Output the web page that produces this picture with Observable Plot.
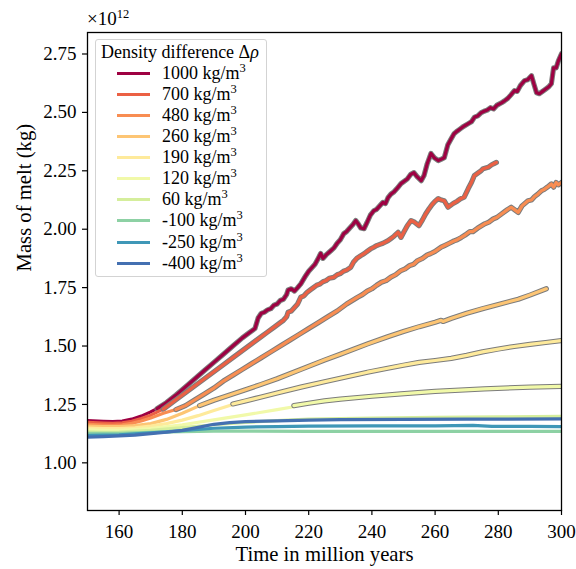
<!DOCTYPE html>
<html>
<head>
<meta charset="utf-8">
<script src="https://cdn.jsdelivr.net/npm/d3@7"></script>
<script src="https://cdn.jsdelivr.net/npm/@observablehq/plot@0.6"></script>
<style>
  body { margin: 0; background: #fff; }
  #wrap { position: relative; width: 576px; height: 569px; font-family: 'Liberation Serif'; color: #000; }
  .sup { font-size: 12.5px; line-height: 0; position: relative; top: -7px; }
  #legend { position: absolute; left: 95px; top: 39px; width: 172px; height: 238px; border: 1px solid #d3d3d3; border-radius: 3px; background: rgba(255,255,255,0.85); box-sizing: border-box; }
  #legend .title { position: absolute; left: 5px; top: 3px; font-size: 18px; line-height: 18px; white-space: nowrap; }
  #legend .row { position: absolute; left: 0; height: 18px; width: 170px; }
  #legend .sw { position: absolute; left: 21px; top: 8px; width: 33px; height: 3px; }
  #legend .lab { position: absolute; left: 66px; top: 0; font-size: 18px; line-height: 18px; white-space: nowrap; }
  #mult { position: absolute; left: 87px; top: 9px; font-size: 19px; line-height: 19px; }
</style>
</head>
<body>
<div id="wrap"></div>
<script>
const seriesNames = ["1000", "700", "480", "260", "190", "120", "60", "-100", "-250", "-400"];
const seriesColors = ["#9e0142", "#eb6044", "#f88d52", "#fdc574", "#feea9b", "#f1f9a9", "#d5ee9c", "#8dd1a4", "#3f97b7", "#4470b1"];
const xTicks = [160, 180, 200, 220, 240, 260, 280, 300];
const yTicks = [1.00, 1.25, 1.50, 1.75, 2.00, 2.25, 2.50, 2.75];

// Mass of melt (units of 1e12 kg) vs time (Myr); early = plain, late = outlined segment
const early_1000 = [[150,1.181],[155,1.178],[158,1.177],[161,1.179],[164,1.187],[167,1.200],[170,1.218],[172,1.232]];
const late_1000 = [[172,1.232],[175,1.258],[178,1.290],[181,1.325],[184,1.360],[187,1.395],[190,1.430],[193,1.465],[196,1.500],[199,1.535],[201,1.555],[203,1.575],[204,1.620],[205,1.640],[206,1.645],[207,1.655],[208,1.660],[209,1.675],[210,1.680],[211,1.695],[212,1.700],[213,1.720],[213.5,1.740],[214.5,1.745],[215.5,1.735],[216.5,1.750],[217.5,1.766],[219,1.800],[220,1.820],[221,1.835],[222,1.850],[223,1.875],[223.8,1.896],[224.5,1.875],[225.5,1.890],[227,1.908],[228,1.920],[229,1.940],[230,1.955],[231.1,1.981],[232,1.990],[233,2.005],[234,2.020],[234.9,2.037],[235.8,2.020],[236.5,2.005],[237.5,2.002],[238.5,2.030],[239.5,2.060],[240.6,2.079],[241.5,2.085],[242.5,2.100],[243.5,2.115],[244.3,2.110],[245.1,2.135],[246,2.150],[247,2.160],[248,2.175],[249.2,2.195],[250.2,2.205],[251.2,2.215],[252.3,2.235],[253.3,2.242],[254.3,2.225],[255.6,2.208],[256.5,2.230],[257.5,2.280],[258.7,2.324],[259.8,2.305],[261,2.294],[262,2.300],[262.9,2.306],[264,2.360],[265,2.385],[266,2.409],[267,2.420],[268,2.430],[269,2.440],[270.5,2.452],[271.5,2.460],[272.5,2.480],[273.5,2.485],[274.6,2.499],[275.5,2.505],[276.5,2.510],[277.5,2.520],[278.5,2.515],[279.5,2.530],[281,2.541],[282,2.550],[283,2.560],[284,2.575],[285.1,2.593],[286,2.590],[287,2.615],[288.3,2.636],[289.3,2.640],[290.5,2.657],[291.3,2.620],[292.1,2.584],[293,2.580],[294,2.590],[295,2.600],[296,2.610],[296.8,2.623],[297.5,2.691],[298.3,2.690],[299,2.720],[300,2.751]];

const early_700 = [[150,1.173],[155,1.170],[158,1.169],[161,1.171],[164,1.178],[167,1.190],[170,1.204],[174,1.230]];
const late_700 = [[174,1.230],[176,1.250],[178,1.270],[181,1.300],[184,1.330],[187,1.360],[190,1.390],[193,1.420],[196,1.450],[199,1.480],[202,1.510],[205,1.540],[207,1.560],[209,1.580],[211,1.600],[212,1.610],[213,1.625],[213.5,1.645],[214.5,1.650],[215.5,1.665],[216.5,1.680],[217.5,1.709],[218.5,1.715],[219.5,1.730],[220.5,1.740],[221.6,1.751],[222.5,1.760],[223.5,1.765],[224.5,1.775],[225.5,1.780],[226.5,1.790],[227.9,1.794],[229,1.805],[230,1.810],[231,1.820],[232,1.825],[233.3,1.837],[234.2,1.860],[235.2,1.875],[236.5,1.887],[237.5,1.895],[238.5,1.905],[239.5,1.915],[240.6,1.923],[241.5,1.930],[242.5,1.935],[243.5,1.940],[245.1,1.951],[246,1.960],[247,1.970],[248.3,1.987],[249.2,1.965],[250.2,1.990],[251.2,2.015],[252.4,2.037],[253.5,2.030],[254.9,2.015],[256,2.040],[257,2.065],[258.1,2.088],[259,2.105],[260,2.120],[261,2.131],[262,2.125],[262.9,2.122],[264.1,2.094],[265.7,2.110],[267,2.120],[268,2.130],[269.2,2.137],[270.5,2.174],[271.5,2.200],[272.4,2.229],[273.5,2.240],[274.5,2.250],[275.2,2.259],[276.8,2.265],[277.8,2.275],[278.5,2.280],[279.4,2.286]];

const early_480 = [[150,1.165],[155,1.162],[158,1.161],[161,1.163],[164,1.169],[167,1.179],[170,1.192],[174,1.212],[178,1.228]];
const late_480 = [[178,1.228],[181,1.245],[184,1.270],[187,1.295],[190,1.320],[193,1.350],[196,1.375],[199,1.400],[202,1.425],[205,1.450],[208,1.475],[211,1.500],[214,1.525],[217,1.550],[220,1.575],[223,1.600],[226,1.625],[229,1.650],[232,1.680],[235.5,1.709],[237,1.720],[238.5,1.735],[240,1.745],[241.5,1.760],[243,1.773],[244.5,1.780],[246,1.795],[247.5,1.805],[249.2,1.823],[250.5,1.830],[252,1.845],[253.2,1.850],[254.5,1.866],[256,1.875],[257.5,1.890],[258.5,1.895],[260,1.905],[261.9,1.923],[263,1.930],[264.5,1.940],[266,1.950],[267,1.955],[268.3,1.965],[269.5,1.975],[271,1.990],[272,1.990],[273.5,2.005],[275.7,2.023],[277,2.030],[278.5,2.045],[279.5,2.050],[281,2.065],[282,2.075],[283,2.085],[284.1,2.094],[285,2.085],[286.3,2.072],[287.5,2.100],[289.4,2.122],[290.5,2.125],[291.5,2.140],[292.5,2.150],[293.7,2.165],[294.5,2.170],[295.5,2.180],[296.8,2.194],[297.5,2.180],[298.3,2.200],[299,2.190],[300,2.200]];

const early_260 = [[150,1.157],[155,1.155],[160,1.155],[165,1.159],[170,1.168],[175,1.186],[180,1.212],[185.5,1.245]];
const late_260 = [[185.5,1.245],[190,1.268],[195,1.290],[200,1.313],[205,1.336],[210,1.360],[217.5,1.400],[225,1.440],[230,1.465],[238.6,1.509],[245,1.540],[250,1.562],[255,1.583],[260,1.602],[261.9,1.610],[262.5,1.605],[265,1.618],[270,1.640],[275,1.660],[280,1.678],[286.3,1.700],[290,1.718],[295.2,1.745]];

const early_190 = [[150,1.149],[155,1.147],[160,1.147],[165,1.150],[170,1.157],[175,1.168],[180,1.183],[185,1.202],[190,1.224],[196,1.250]];
const late_190 = [[196,1.252],[200,1.265],[205,1.282],[210,1.299],[217.5,1.324],[225,1.347],[230,1.362],[238.6,1.388],[245,1.405],[250,1.418],[255,1.430],[260,1.438],[265.1,1.447],[270,1.460],[275,1.475],[280,1.487],[285,1.498],[290,1.507],[295,1.515],[300,1.523]];

const early_120 = [[150,1.141],[155,1.139],[160,1.139],[170,1.147],[180,1.163],[190,1.184],[200,1.205],[210,1.228],[215.3,1.240]];
const late_120 = [[215.3,1.245],[220,1.255],[225,1.265],[230,1.273],[240,1.285],[249.2,1.295],[260,1.306],[275.6,1.317],[290,1.324],[300,1.327]];

const early_60 = [[150,1.133],[155,1.131],[160,1.132],[170,1.139],[180,1.151],[190,1.163],[200,1.173],[210,1.181],[220,1.187],[240,1.192],[260,1.195],[280,1.197],[300,1.199]];
const early_m100 = [[150,1.126],[160,1.126],[170,1.130],[180,1.134],[190,1.136],[200,1.136],[220,1.135],[260,1.135],[300,1.135]];
const early_m250 = [[150,1.118],[160,1.120],[170,1.128],[180,1.138],[190,1.148],[200,1.153],[210,1.155],[220,1.157],[240,1.158],[260,1.158],[272,1.160],[278,1.156],[290,1.156],[300,1.155]];
const early_m400 = [[150,1.110],[155,1.112],[160,1.115],[165,1.119],[170,1.125],[175,1.131],[180,1.139],[185,1.152],[190,1.165],[195,1.172],[200,1.176],[210,1.180],[220,1.183],[230,1.185],[250,1.186],[270,1.187],[300,1.188]];

const earlySegs = [early_1000, early_700, early_480, early_260, early_190, early_120, early_60, early_m100, early_m250, early_m400];
const lateSegs = [late_1000, late_700, late_480, late_260, late_190, late_120, null, null, null, null];

const rows = (arr, s) => arr.map(([t, v]) => ({t, v, s}));
const FONT = "Liberation Serif";

const marks = [];
seriesNames.forEach((name, i) => {
  marks.push(Plot.line(rows(earlySegs[i], name), {x: "t", y: "v", stroke: "s", strokeWidth: 3.2, strokeLinejoin: "round", clip: true}));
  if (lateSegs[i]) {
    const r = rows(lateSegs[i], name);
    marks.push(Plot.line(r, {x: "t", y: "v", stroke: "#7c7c7c", strokeWidth: 5.2, strokeLinejoin: "round", clip: true}));
    marks.push(Plot.line(r, {x: "t", y: "v", stroke: "s", strokeWidth: 3.2, strokeLinejoin: "round", clip: true}));
  }
});

const chart = Plot.plot({
  width: 576,
  height: 569,
  marginLeft: 87,
  marginRight: 15,
  marginTop: 32,
  marginBottom: 59,
  style: {fontFamily: FONT, fontSize: "19px", background: "#fff", color: "#000"},
  x: {domain: [150, 300]},
  y: {domain: [0.796, 2.842]},
  color: {domain: seriesNames, range: seriesColors},
  marks: [
    ...marks,
    Plot.frame({stroke: "#000", strokeWidth: 1.3}),
    Plot.axisX({ticks: xTicks, tickSize: 5, tickPadding: 9, label: null, fontSize: 19, fontFamily: FONT, strokeWidth: 1.2, tickFormat: d => String(d)}),
    Plot.axisY({ticks: yTicks, tickSize: 5, tickPadding: 6, label: null, fontSize: 19, fontFamily: FONT, strokeWidth: 1.2, tickFormat: d3.format(".2f")}),
    Plot.text(["Time in million years"], {frameAnchor: "bottom", dy: 43.5, text: d => d, fontSize: 20.7, fontFamily: FONT, lineAnchor: "middle"}),
    Plot.text(["Mass of melt (kg)"], {frameAnchor: "left", dx: -63, rotate: -90, text: d => d, fontSize: 20.7, fontFamily: FONT, lineAnchor: "middle"})
  ]
});

const wrap = document.getElementById("wrap");
wrap.appendChild(chart);

const mult = document.createElement("div");
mult.id = "mult";
mult.innerHTML = "×10<span class='sup'>12</span>";
wrap.appendChild(mult);

const legend = document.createElement("div");
legend.id = "legend";
let html = "<div class='title'>Density difference Δ<i>ρ</i></div>";
seriesNames.forEach((name, i) => {
  const top = 23.7 + 21.1 * i;
  html += `<div class='row' style='top:${top}px'><div class='sw' style='background:${seriesColors[i]}'></div><div class='lab'>${name} kg/m<span class='sup'>3</span></div></div>`;
});
legend.innerHTML = html;
wrap.appendChild(legend);
</script>
</body>
</html>
